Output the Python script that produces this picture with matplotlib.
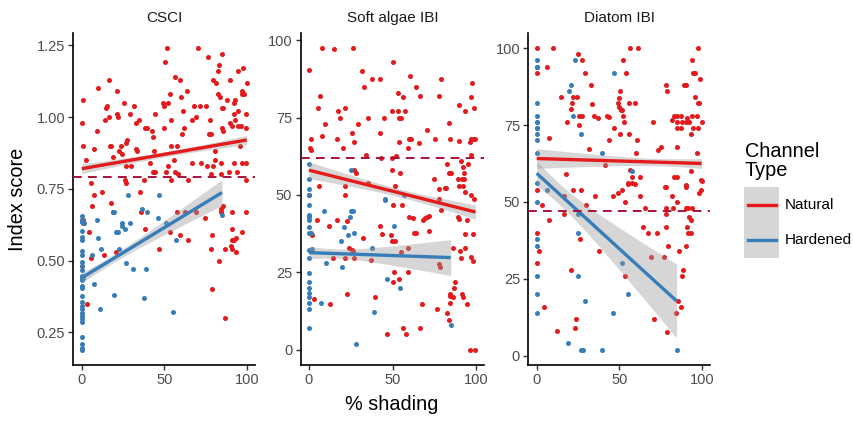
import numpy as np
import matplotlib
matplotlib.use("Agg")
import matplotlib.pyplot as plt
from matplotlib.patches import Rectangle
from matplotlib.lines import Line2D

plt.rcParams['font.family'] = ['Liberation Sans', 'DejaVu Sans']

# ---- data ----
panels = ["CSCI", "Soft algae IBI", "Diatom IBI"]
thresholds = [0.79, 62, 47]

csci_nat_x = [0.2, 0.8, 0.6, 2.8, 5.7, 7.5, 9.3, 9.9, 7.7, 12.5, 14.5, 15.4, 16.4, 14.1, 16.4, 17, 17.8, 19,
              21.4, 21.4, 21.8, 22.6, 24, 24.6, 25.9, 27, 27.7, 27, 26.3, 27, 29.1, 31.5, 30, 33, 33.5, 32.7,
              34.5, 35.6, 38, 38.2, 39.6, 41.2, 42.6, 43, 43.6, 44.4, 43.4, 44.6, 49.3, 50, 50, 50.5, 51.7, 51,
              52.3, 52.3, 53.5, 54, 54.1, 56.4, 56, 56.4, 58, 59.8, 60.4, 60.6, 61.4, 62.2, 58.5, 64, 64.4, 67,
              67.9, 69, 67, 70.7, 71.5, 75, 72, 76, 76.4, 77, 78, 78.4, 78.6, 79.4, 79.6, 80.6, 81, 81.6, 82.6,
              83.2, 82.8, 84, 85.3, 84.9, 85.6, 85.3, 85.6, 84.6, 84.6, 88, 89.3, 90, 90, 91, 92, 92.5, 92.8, 92,
              93, 93.8, 94.4, 94.4, 94.8, 95.8, 96.4, 97, 97.4, 98, 98.6, 99.4, 99.6, 100, 97, 99.3, 99.8,
              6.5, 4.4, 5.5, 0, 0.5, 1, 0, 3.4, 13.5, 17.6, 19, 20.6, 35.8, 38.6, 46.9, 53.7, 58, 59.8, 62.8,
              64.4, 69.5, 74.9, 79, 78.6, 79.2, 83, 84.2, 84.6, 85.8, 87, 86.9, 91, 91, 91.3, 90.5, 91, 92.3,
              93.3, 93.5, 96.9, 99.8, 54]
csci_nat_y = [0.98, 1.06, 0.90, 0.85, 0.77, 0.73, 0.95, 1.10, 0.89, 0.74, 1.03, 1.04, 1.13, 0.99, 1.00, 0.90,
              0.90, 0.86, 1.01, 1.09, 1.00, 0.88, 0.90, 0.87, 1.05, 0.91, 0.92, 0.83, 0.78, 0.77, 1.01, 1.04,
              0.83, 0.89, 0.88, 0.98, 0.99, 0.74, 0.78, 0.96, 0.96, 0.84, 0.95, 0.93, 0.88, 1.01, 0.81, 0.81,
              1.05, 1.04, 0.96, 1.19, 1.24, 0.81, 1.05, 0.83, 1.08, 0.99, 0.90, 1.14, 0.85, 0.81, 0.90, 1.13,
              1.07, 0.94, 1.02, 0.96, 0.80, 1.09, 0.78, 0.99, 1.04, 1.00, 0.84, 1.24, 1.04, 1.04, 0.84, 0.83,
              1.21, 0.94, 0.99, 0.94, 0.80, 0.83, 1.13, 0.88, 0.85, 1.12, 1.16, 1.18, 1.08, 1.07, 1.22, 1.03,
              1.03, 0.96, 0.95, 0.84, 0.80, 1.06, 0.81, 1.13, 0.98, 0.97, 1.01, 1.05, 0.99, 0.84, 1.06, 0.81,
              1.16, 1.02, 0.97, 0.90, 0.97, 1.09, 1.08, 1.17, 1.08, 1.01, 0.96, 1.12, 0.84, 0.78, 0.84,
              0.69, 0.60, 0.51, 0.64, 0.64, 0.63, 0.48, 0.35, 0.52, 0.70, 0.67, 0.53, 0.67, 0.61, 0.54, 0.60,
              0.67, 0.59, 0.67, 0.57, 0.67, 0.65, 0.59, 0.54, 0.40, 0.50, 0.68, 0.67, 0.69, 0.54, 0.30, 0.67,
              0.61, 0.57, 0.55, 0.54, 0.57, 0.58, 0.53, 0.60, 0.67, 0.78]
csci_hard_x = [0] * 28 + [1.4, 1, 6.5, 7.5, 9.3, 9.7, 10.9, 11.9, 19, 19.6, 19.4, 20.6, 22, 22.6, 24.4, 24.6,
                          26.5, 27, 28, 29, 31, 36.4, 37.8, 39.2, 39.6, 46.3, 46.9, 51.3, 57.4, 55.4, 85]
csci_hard_y = [0.654, 0.642, 0.633, 0.602, 0.582, 0.573, 0.535, 0.521, 0.494, 0.482, 0.469, 0.448, 0.438,
               0.434, 0.413, 0.405, 0.378, 0.355, 0.341, 0.330, 0.318, 0.307, 0.295, 0.287, 0.235, 0.208,
               0.197, 0.189,
               0.63, 0.44, 0.52, 0.42, 0.64, 0.58, 0.33, 0.54, 0.67, 0.67, 0.38, 0.60, 0.60, 0.54, 0.63, 0.62,
               0.61, 0.49, 0.73, 0.63, 0.47, 0.68, 0.37, 0.47, 0.67, 0.65, 0.73, 0.63, 0.57, 0.32, 0.66]

algae_nat_x = [0, 1, 0.4, 1.2, 0, 5.6, 6.8, 7.6, 8, 6.2, 9.6, 14.8, 16.6, 17.6, 18.6, 20.6, 21.8, 21.6, 21.8,
               26, 26.6, 27, 26.8, 28, 29.6, 31.8, 33, 34.2, 35.2, 35.6, 38, 42.6, 42.2, 43.2, 44.6, 49.6, 50,
               49.6, 52.2, 51.6, 49.4, 53.4, 53.2, 53.6, 54.2, 54, 55, 56.2, 57.2, 59.2, 59.8, 61, 60.6, 64,
               65.6, 66.4, 70.8, 74.8, 75.6, 77.6, 78.8, 77.6, 81.2, 82.6, 84, 83.6, 85.2, 84.6, 89, 89.6, 89.8,
               89.8, 91, 91.8, 92.4, 92.6, 92.6, 92.2, 93.2, 93.6, 95.4, 96.4, 96.8, 97, 97.6, 98.8, 98.2, 99.2,
               97, 96.8, 99, 77.6, 82.2,
               4.6, 1.6, 12.2, 17, 23, 24.2, 25.6, 26.6, 21.6, 27, 14.4, 32.2, 23, 12.6, 3.2, 37, 39.6, 42.6,
               43.6, 46.6, 48.8, 49.6, 50.2, 51.6, 50, 51, 53.6, 55.2, 55.4, 56, 58, 59, 59.2, 60, 62.2, 62.6,
               64, 66.6, 67.6, 68.4, 69.6, 70.6, 72, 71.6, 76.6, 77.6, 78.6, 78.8, 82.6, 84, 84.2, 84.4, 86.2,
               87.4, 87, 86.2, 84.6, 89, 89.6, 90.4, 90.8, 91.6, 92.4, 93.2, 93.6, 94.4, 94.4, 98, 97.2, 98,
               96.6, 99.6]
algae_nat_y = [90.3, 68, 65, 64.5, 50, 78, 82, 97.3, 69, 53, 73, 97, 68, 77, 75, 65, 78, 53, 50, 70, 97.4, 67,
               58, 57, 73, 90, 85, 63, 54, 75, 87.3, 87.3, 70, 62, 75, 77, 93, 62, 62.6, 53, 58, 83, 77, 67, 57,
               75, 75, 81.6, 77, 65, 68, 68, 88.3, 85, 66.7, 82, 71, 55, 68, 82, 87.3, 51.8, 52.4, 60, 73.3, 57,
               57, 68, 55, 53, 79, 67.4, 61, 55, 59, 57, 55, 53, 51, 77, 60, 67, 63, 81.5, 86.2, 78, 68, 68, 68,
               50, 48.6, 48.8, 52.4,
               42, 37, 40, 42, 41.5, 33, 32.3, 32, 29.8, 29.8, 29.8, 36, 18, 14.8, 16.5, 29, 17.2, 40, 37.4, 5,
               37, 35, 46.8, 35, 22, 25, 22.9, 31.6, 46.8, 7, 5, 32.8, 25, 43, 42.5, 37.8, 37.8, 7, 14.8, 42,
               42.5, 43, 43.2, 38.5, 13.2, 27.6, 26.9, 45, 12, 9.8, 15, 18, 33, 21.8, 20, 17.2, 17.4, 43, 42.3,
               32, 29.8, 18.1, 17.2, 37.4, 32.8, 42, 14.8, 37.4, 30, 28.7, 0, 0]
algae_hard_x = [0] * 20 + [1.2, 1.6, 7, 9.2, 10, 19.6, 19.2, 21.2, 23.2, 24.6, 25, 26.6, 27, 28, 37.6, 39,
                           45.6, 46.6, 51, 54.6, 84.8, 25.2, 45.6, 56.6]
algae_hard_y = [60, 55, 52, 50, 46.8, 43.6, 42.8, 42, 39.8, 37.8, 32.1, 29.8, 24.9, 21.9, 20, 18.5, 17, 15,
                13.1, 7,
                37.8, 32.6, 15, 44.7, 28, 26.8, 35.3, 39.8, 37.2, 42.8, 44.7, 44.7, 37.8, 2, 32.9, 12.3, 48.4,
                22.9, 39.9, 20, 8, 58, 48.6, 50]

diatom_nat_x = [0, 0, 6.4, 10, 7.6, 14.5, 17.5, 18.3, 21, 21.5, 22.1, 24.5, 25, 25.8, 25.6, 27.2, 27.2, 29.4,
                31.8, 32.6, 33.2, 34.4, 36.8, 41, 42.6, 43.6, 43.4, 46.9, 49.3, 50, 49.9, 50.5, 51, 51.5,
                50.5, 52, 52, 53, 53.9, 56, 56.3, 56, 59.4, 60.8, 61.4, 60, 62.4, 70.4, 73, 74.9, 77.9, 78.9,
                82, 83, 84.5, 85, 85, 84.5, 87.1, 87.1, 88, 88.9, 90, 90.3, 91, 92, 93.2, 93.6, 94, 94.2, 94.6,
                95.6, 95.6, 96.6, 97.2, 97.6, 97.6, 98.2, 98.8, 99.6, 99, 96.6, 93.2, 56.3, 57.3, 55.3, 57.7,
                84.5, 83, 90.2, 77.5,
                3, 0, 7.6, 0, 0, 1.6, 4.6, 12.5, 16.7, 16.5, 21, 22, 23, 23.7, 26, 26.5, 29.5, 35, 37.8, 46.3,
                49.3, 51.7, 53.3, 53.3, 55.3, 59.4, 62.4, 64, 65.4, 67.4, 69, 71, 72.4, 76.9, 78, 78.4, 78.4,
                78.4, 78.9, 79.5, 81.5, 82.3, 84, 85, 85.3, 86.1, 87, 87.5, 88.5, 90, 90.2, 90.2, 91, 91.2,
                91.6, 92, 93.2, 93, 93.6, 98.2, 99, 99.6]
diatom_nat_y = [100, 91.9, 94, 100, 70.9, 84, 59, 75.9, 80.2, 82, 84, 84, 98, 75, 78, 96, 78, 92, 67.3, 88,
                81.9, 78, 77.2, 62, 78, 77.5, 70, 74, 82, 83.8, 81, 86, 80, 80, 72, 96, 78, 76, 92, 72, 100, 82,
                82, 70, 100, 66, 58, 76, 67, 68, 88, 86, 76.7, 78, 78, 76, 74, 68, 78, 74, 76, 88, 88, 76, 77.2,
                76, 72, 78, 96, 74, 92, 92, 84, 78, 74, 100, 82, 82, 90, 76, 57, 66, 60, 60.3, 58.2, 56, 56,
                58.2, 58.2, 55.5, 55,
                49, 54, 44, 40, 30, 34, 16, 7.9, 52, 46, 27.8, 54, 8.9, 12, 38, 54, 49, 52, 34, 52, 53, 54, 50,
                25.8, 55.8, 55.8, 52, 42, 48, 40, 32, 11.8, 40, 32, 55, 48, 46, 42, 7.8, 35.8, 52, 48, 14, 50,
                17.8, 34, 16, 25.8, 27.8, 35.8, 55, 48, 42, 40, 48, 45, 44, 40, 48, 53, 54, 56.8]
diatom_hard_x = [0] * 20 + [6.4, 18.7, 24.7, 25, 24.7, 26.8, 28.2, 29.2, 39.2, 45.9, 51.3, 54.9, 84.5, 23.1,
                            20.7, 19.5, 22, 26.5, 46.5, 39.2, 57.3]
diatom_hard_y = [96, 94, 94, 94, 82, 78, 76, 76, 74, 74, 72, 70, 66, 56, 50, 38, 35.8, 25.8, 20, 13.8,
                 53.8, 4, 25.8, 40, 46, 1.9, 1.9, 17.8, 1.9, 13.8, 30, 20, 1.9, 96, 88, 86, 78, 72, 92, 66, 60]

# linear-fit summaries: value at the first / last x of each group,
# and half-width of the 95% band at the first x, at its narrowest and at the last x
nat_fit_start = [0.82, 58.0, 64.1]
nat_fit_end = [0.92, 44.5, 62.5]
nat_band = [(0.017, 0.009, 0.016), (2.7, 1.3, 2.3), (3.2, 1.2, 1.6)]
hard_fit_start = [0.44, 31.4, 59.3]
hard_fit_end = [0.737, 29.8, 17.8]
hard_band = [(0.018, 0.014, 0.045), (2.0, 1.5, 5.8), (4.0, 3.4, 12.0)]

data = [
    (csci_nat_x, csci_nat_y, csci_hard_x, csci_hard_y),
    (algae_nat_x, algae_nat_y, algae_hard_x, algae_hard_y),
    (diatom_nat_x, diatom_nat_y, diatom_hard_x, diatom_hard_y),
]
y_ticks = [[0.25, 0.5, 0.75, 1.0, 1.25], [0, 25, 50, 75, 100], [0, 25, 50, 75, 100]]
y_labels = [["0.25", "0.50", "0.75", "1.00", "1.25"], ["0", "25", "50", "75", "100"],
            ["0", "25", "50", "75", "100"]]

RED = "#E41A1C"
BLUE = "#377EB8"
DASH = "#A8123A"


def smooth_band(x, y0, y1, band):
    # straight fit line and a hyperbolic confidence band (same shape as an lm band)
    xs_, xe_ = min(x), max(x)
    hs, m, he = band
    a = np.sqrt(max(hs ** 2 - m ** 2, 0))
    b = np.sqrt(max(he ** 2 - m ** 2, 0))
    sk = (a + b) / (xe_ - xs_)
    x0 = xs_ + (a / sk if sk > 0 else 0)
    xs = np.linspace(xs_, xe_, 80)
    fit = y0 + (y1 - y0) * (xs - xs_) / (xe_ - xs_)
    hw = np.sqrt(m ** 2 + (sk * (xs - x0)) ** 2)
    return xs, fit, fit - hw, fit + hw


W, H = 854, 421
fig = plt.figure(figsize=(W / 100, H / 100), dpi=100)

lefts = [73.5, 300.6, 528.4]
widths = [181.5, 183.9, 182.1]
top_px, bot_px = 33, 365

for i, name in enumerate(panels):
    ax = fig.add_axes([lefts[i] / W, 1 - bot_px / H, widths[i] / W, (bot_px - top_px) / H])
    nx, ny, hx, hy = data[i]
    ax.scatter(nx, ny, s=13, color=RED, linewidths=0, zorder=2)
    ax.scatter(hx, hy, s=13, color=BLUE, linewidths=0, zorder=2)
    lows, highs = [min(ny), min(hy), thresholds[i]], [max(ny), max(hy), thresholds[i]]
    groups = [(nx, nat_fit_start[i], nat_fit_end[i], nat_band[i], RED),
              (hx, hard_fit_start[i], hard_fit_end[i], hard_band[i], BLUE)]
    for xx, y0, y1, band, col in groups:
        xs, fit, lo, hi = smooth_band(xx, y0, y1, band)
        ax.fill_between(xs, lo, hi, color='#999999', alpha=0.4, linewidth=0, zorder=3)
        ax.plot(xs, fit, color=col, lw=2.4, zorder=4, solid_capstyle='butt')
        lows.append(lo.min())
        highs.append(hi.max())
    ax.axhline(thresholds[i], color=DASH, lw=1.4, dashes=(4.5, 3.2), zorder=5)

    ymin, ymax = min(lows), max(highs)
    pad = (ymax - ymin) * 0.05
    ax.set_ylim(ymin - pad, ymax + pad)
    ax.set_xlim(-5, 105)
    ax.set_xticks([0, 50, 100])
    ax.set_yticks(y_ticks[i])
    ax.set_yticklabels(y_labels[i])
    for sp in ['top', 'right']:
        ax.spines[sp].set_visible(False)
    for sp in ['left', 'bottom']:
        ax.spines[sp].set_linewidth(1.2)
        ax.spines[sp].set_color('black')
    ax.tick_params(axis='both', length=3.5, width=1.0, color='#333333', labelsize=10.5,
                   labelcolor='#4D4D4D', pad=2.5)
    ax.set_title(name, fontsize=11, color='#1A1A1A', pad=8)

fig.text(18 / W, 1 - 199 / H, "Index score", rotation=90, ha='center', va='center', fontsize=14.3)
fig.text(392 / W, 1 - 405 / H, "% shading", ha='center', va='center', fontsize=14.3)

# legend
fig.text(745 / W, 1 - 161 / H, "Channel\nType", ha='left', va='center', fontsize=14.3,
         linespacing=1.0)
fig.add_artist(Rectangle((744 / W, 1 - 258 / H), 35 / W, 71 / H, transform=fig.transFigure,
                         facecolor='#D6D6D6', edgecolor='none'))
for yy, col, lab in [(205, RED, "Natural"), (240, BLUE, "Hardened")]:
    fig.add_artist(Line2D([748 / W, 776 / W], [1 - yy / H, 1 - yy / H], transform=fig.transFigure,
                          color=col, lw=2.4))
    fig.text(785 / W, 1 - yy / H, lab, ha='left', va='center', fontsize=11)

fig.savefig("out.png", dpi=100)
